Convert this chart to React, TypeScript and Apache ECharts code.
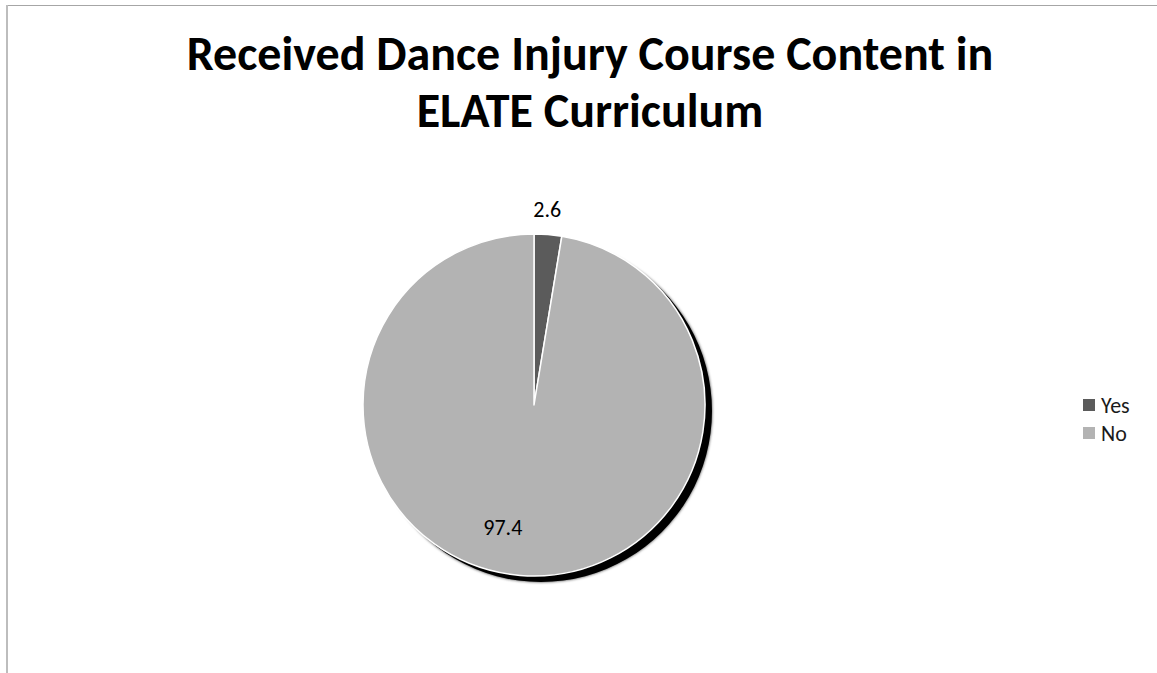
import React, { useEffect, useRef } from "react";
import * as echarts from "echarts";

const titleLines = ["Received Dance Injury Course Content in", "ELATE Curriculum"];
const categories = ["Yes", "No"];
const values = [2.6, 97.4];
const colors = ["#5b5b5b", "#b3b3b3"];

const FONT = "Carlito, Lato, 'Open Sans', sans-serif";

export default function App() {
  const ref = useRef<HTMLDivElement>(null);
  useEffect(() => {
    if (!ref.current) return;
    const chart = echarts.init(ref.current, null, { renderer: "svg" });
    const cx = 534;
    const cy = 405;
    const r = 171;
    const labelOffsets = [
      [6, -107],
      [-24, 34],
    ];
    chart.setOption({
      animation: false,
      backgroundColor: "#ffffff",
      graphic: [
        { type: "line", shape: { x1: 6, y1: 5.5, x2: 1157, y2: 5.5 }, style: { stroke: "#a6a6a6", lineWidth: 1 } },
        { type: "line", shape: { x1: 7, y1: 5, x2: 7, y2: 673 }, style: { stroke: "#bdbdbd", lineWidth: 2 } },
        {
          type: "text",
          x: 590,
          y: 25,
          style: {
            text: titleLines.join("\n"),
            align: "center",
            verticalAlign: "top",
            fontSize: 48,
            fontWeight: "bold",
            fontFamily: FONT,
            lineHeight: 57,
            fill: "#000000",
          },
        },
      ],
      legend: {
        data: categories,
        orient: "vertical",
        left: 1076,
        top: 389,
        itemWidth: 14,
        itemHeight: 14,
        itemGap: 6,
        icon: "rect",
        selectedMode: false,
        textStyle: { fontSize: 22, fontFamily: FONT, color: "#1a1a1a" },
      },
      series: [
        {
          name: "shadow",
          type: "pie",
          silent: true,
          center: [cx + 7, cy + 6],
          radius: r,
          startAngle: 90,
          label: { show: false },
          labelLine: { show: false },
          itemStyle: { color: "#000000", shadowBlur: 3, shadowColor: "rgba(0,0,0,0.8)" },
          data: [{ name: "shadow", value: 1 }],
        },
        {
          name: "Injury",
          type: "pie",
          center: [cx, cy],
          radius: r,
          startAngle: 90,
          clockwise: true,
          avoidLabelOverlap: false,
          labelLine: { show: false },
          itemStyle: { borderColor: "#ffffff", borderWidth: 1.5 },
          data: categories.map((c, i) => ({
            name: c,
            value: values[i],
            itemStyle: { color: colors[i] },
            label: {
              show: true,
              position: "inside",
              formatter: String(values[i]),
              offset: labelOffsets[i],
              fontSize: 22,
              fontFamily: FONT,
              color: "#000000",
            },
          })),
        },
      ],
    });
    return () => chart.dispose();
  }, []);
  return (
    <div
      ref={ref}
      style={{ position: "absolute", left: 0, top: 0, width: 1157, height: 673 }}
    />
  );
}
